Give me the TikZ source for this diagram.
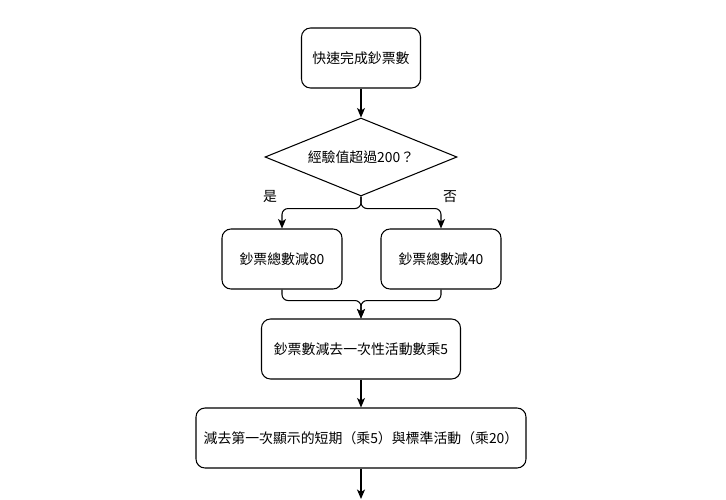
\documentclass[tikz,border=0pt]{standalone}
\usepackage{fontspec}
\setmainfont{Noto Sans CJK TC}
\usetikzlibrary{arrows.meta,shapes.geometric}
\tikzset{
    stepbox/.style={rectangle,draw,rounded corners=0.18cm,line width=0.6pt,minimum width=2.4cm,minimum height=1.2cm,font=\fontsize{7.9}{9.5}\selectfont},
    decision/.style={diamond,draw,line width=0.6pt,inner sep=0pt,aspect=2.46,minimum width=3.84cm,minimum height=1.56cm,font=\fontsize{7.9}{9.5}\selectfont},
    flow/.style={->,> = {Stealth[length=0.19cm,width=0.16cm,inset=0.05cm]},line width=0.6pt,draw=black,rounded corners=0.12cm},
    answer/.style={font=\fontsize{7.9}{9.5}\selectfont},
}
\begin{document}
\begin{tikzpicture}
    \useasboundingbox (0,0) rectangle (14.52,-9.98);
    \node[stepbox,minimum width=2.38cm] (count) at (7.22,-1.16) {快速完成鈔票數};
    \node[decision] (exp) at (7.22,-3.14) {經驗值超過200？};
    \node[stepbox] (minus80) at (5.64,-5.18) {鈔票總數減80};
    \node[stepbox] (minus40) at (8.82,-5.18) {鈔票總數減40};
    \node[stepbox,minimum width=3.98cm] (once) at (7.22,-6.98) {鈔票數減去一次性活動數乘5};
    \node[stepbox,minimum width=6.6cm] (first) at (7.22,-8.76) {減去第一次顯示的短期（乘5）與標準活動（乘20）};
    \coordinate (next) at (7.22,-9.98);
    \node[answer] (yes) at (5.4,-3.94) {是};
    \node[answer] (no) at (9.0,-3.94) {否};
    \draw[flow] (count) -- (exp);
    \draw[flow] (exp.south) -- ++(0,-0.24) -| (minus80.north);
    \draw[flow] (exp.south) -- ++(0,-0.24) -| (minus40.north);
    \draw[flow] (minus80.south) -- ++(0,-0.22) -| (once.north);
    \draw[flow] (minus40.south) -- ++(0,-0.22) -| (once.north);
    \draw[flow] (once) -- (first);
    \draw[flow] (first) -- (next);
\end{tikzpicture}
\end{document}
